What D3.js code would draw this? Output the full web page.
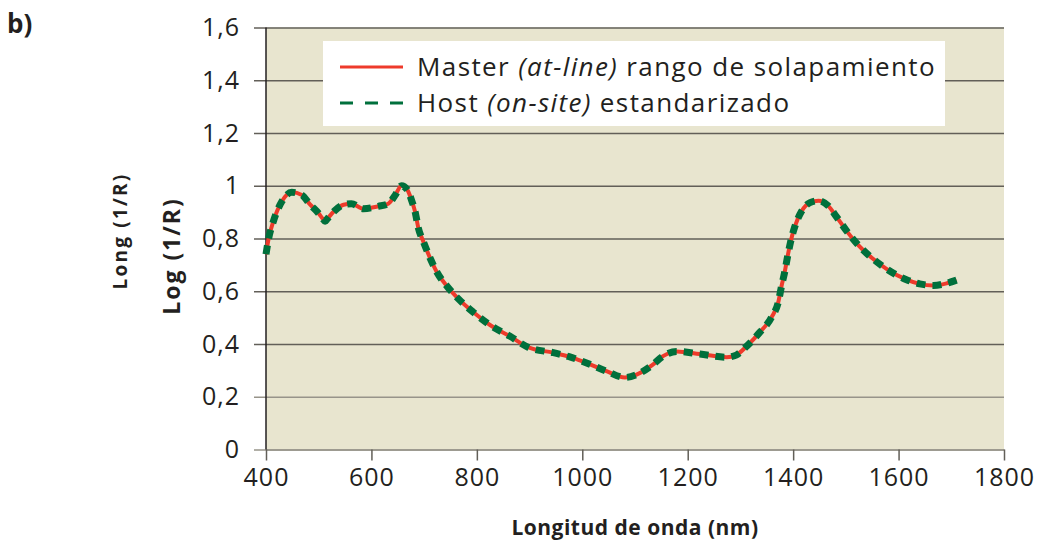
<!DOCTYPE html>
<html>
<head>
<meta charset="utf-8">
<script src="https://cdn.jsdelivr.net/npm/d3@7"></script>
<style>
  body { margin: 0; background: #fff; }
  svg text { font-family: "Open Sans", sans-serif; fill: #231f20; }
</style>
</head>
<body>
<div id="chart"></div>
<script>
// wavelength (nm) and log(1/R)
var wavelengths = [400, 405, 414, 430, 449, 468, 483, 500, 508, 512, 516, 530, 547, 562, 585, 613, 632, 645, 657, 668, 677, 683, 689, 699, 711, 724, 743, 765, 793, 825, 863, 898, 945, 975, 1002, 1046, 1081, 1103, 1132, 1154, 1179, 1223, 1274, 1292, 1312, 1337, 1359, 1372, 1378, 1384, 1389, 1395, 1403, 1416, 1432, 1448, 1467, 1482, 1501, 1524, 1549, 1577, 1615, 1640, 1666, 1691, 1710];
var masterValues = [0.74, 0.80, 0.865, 0.94, 0.975, 0.965, 0.93, 0.895, 0.874, 0.865, 0.874, 0.905, 0.928, 0.932, 0.913, 0.922, 0.932, 0.964, 1.0, 0.985, 0.94, 0.90, 0.84, 0.786, 0.727, 0.673, 0.620, 0.571, 0.521, 0.472, 0.429, 0.387, 0.367, 0.352, 0.333, 0.297, 0.273, 0.284, 0.319, 0.355, 0.372, 0.362, 0.350, 0.358, 0.392, 0.445, 0.501, 0.56, 0.62, 0.673, 0.727, 0.786, 0.844, 0.903, 0.936, 0.943, 0.923, 0.883, 0.83, 0.774, 0.727, 0.685, 0.644, 0.628, 0.622, 0.630, 0.642];
var hostValues = [0.74, 0.80, 0.865, 0.94, 0.975, 0.965, 0.93, 0.895, 0.874, 0.865, 0.874, 0.905, 0.928, 0.932, 0.913, 0.922, 0.932, 0.964, 1.0, 0.985, 0.94, 0.90, 0.84, 0.786, 0.727, 0.673, 0.620, 0.571, 0.521, 0.472, 0.429, 0.387, 0.367, 0.352, 0.333, 0.297, 0.273, 0.284, 0.319, 0.355, 0.372, 0.362, 0.350, 0.358, 0.392, 0.445, 0.501, 0.56, 0.62, 0.673, 0.727, 0.786, 0.844, 0.903, 0.936, 0.943, 0.923, 0.883, 0.83, 0.774, 0.727, 0.685, 0.644, 0.628, 0.622, 0.630, 0.642];
var xTicks = [400, 600, 800, 1000, 1200, 1400, 1600, 1800];
var yTicks = [0, 0.2, 0.4, 0.6, 0.8, 1, 1.2, 1.4, 1.6];

var svgWidth = 1039;
var svgHeight = 546;
var margin = { top: 27.5, right: 35, bottom: 96.5, left: 266 };
var width = svgWidth - margin.left - margin.right;
var height = svgHeight - margin.top - margin.bottom;

var svg = d3.select("#chart")
  .append("svg")
  .attr("width", svgWidth)
  .attr("height", svgHeight);

var chartGroup = svg.append("g")
  .attr("transform", `translate(${margin.left}, ${margin.top})`);

var xScale = d3.scaleLinear().domain([400, 1800]).range([0, width]);
var yScale = d3.scaleLinear().domain([0, 1.6]).range([height, 0]);

// plot background
chartGroup.append("rect")
  .attr("width", width)
  .attr("height", height)
  .attr("fill", "#e8e5cf");

// y grid + outside ticks + labels
var yAxis = d3.axisLeft(yScale)
  .tickValues(yTicks)
  .tickSizeInner(-(width + 12))
  .tickSizeOuter(0)
  .tickPadding(14)
  .tickFormat(d => d3.format("~g")(d).replace(".", ","));

var yAxisG = chartGroup.append("g")
  .attr("transform", "translate(-12, 0)")
  .call(yAxis);
yAxisG.select(".domain").remove();
yAxisG.selectAll(".tick line")
  .attr("stroke", d => d <= 0.2 ? "#97948a" : "#625f58")
  .attr("stroke-width", 1.5);
yAxisG.selectAll(".tick text")
  .attr("font-size", "25px")
  .attr("font-family", "Open Sans, sans-serif")
  .attr("letter-spacing", "1px")
  .attr("fill", "#231f20");

// x axis
var xAxis = d3.axisBottom(xScale)
  .tickValues(xTicks)
  .tickSizeInner(11)
  .tickSizeOuter(0)
  .tickPadding(8)
  .tickFormat(d3.format("d"));

var xAxisG = chartGroup.append("g")
  .attr("transform", `translate(0, ${height})`)
  .call(xAxis);
xAxisG.select(".domain").attr("stroke", "#97948a").attr("stroke-width", 1.5);
xAxisG.selectAll(".tick line").attr("stroke", "#625f58").attr("stroke-width", 1.5);
xAxisG.selectAll(".tick text")
  .attr("font-size", "25px")
  .attr("font-family", "Open Sans, sans-serif")
  .attr("letter-spacing", "1px")
  .attr("fill", "#231f20");

// left axis line
chartGroup.append("line")
  .attr("x1", 0).attr("x2", 0)
  .attr("y1", 0).attr("y2", height)
  .attr("stroke", "#231f20")
  .attr("stroke-width", 1.5);

// curves
var line = d3.line()
  .x(d => xScale(d[0]))
  .y(d => yScale(d[1]))
  .curve(d3.curveMonotoneX);

var masterData = wavelengths.map((w, i) => [w, masterValues[i]]);
var hostData = wavelengths.map((w, i) => [w, hostValues[i]]);

chartGroup.append("path")
  .datum(masterData)
  .attr("d", line)
  .attr("fill", "none")
  .attr("stroke", "#ee3a2b")
  .attr("stroke-width", 4);

chartGroup.append("path")
  .datum(hostData)
  .attr("d", line)
  .attr("fill", "none")
  .attr("stroke", "#00703c")
  .attr("stroke-width", 7)
  .attr("stroke-dasharray", "9,7");

// legend
var legend = svg.append("g").attr("transform", "translate(323, 41)");
legend.append("rect")
  .attr("width", 622)
  .attr("height", 85)
  .attr("fill", "#fff");

legend.append("line")
  .attr("x1", 17).attr("x2", 80)
  .attr("y1", 26).attr("y2", 26)
  .attr("stroke", "#ee3a2b")
  .attr("stroke-width", 3);
legend.append("line")
  .attr("x1", 17).attr("x2", 84)
  .attr("y1", 62).attr("y2", 62)
  .attr("stroke", "#00703c")
  .attr("stroke-width", 3)
  .attr("stroke-dasharray", "13,12");

var t1 = legend.append("text").attr("x", 94).attr("y", 35)
  .attr("font-size", "26px").attr("letter-spacing", "1.4px");
t1.append("tspan").text("Master ");
t1.append("tspan").attr("font-style", "italic").text("(at-line)");
t1.append("tspan").text(" rango de solapamiento");

var t2 = legend.append("text").attr("x", 94).attr("y", 71)
  .attr("font-size", "26px").attr("letter-spacing", "1.4px");
t2.append("tspan").text("Host ");
t2.append("tspan").attr("font-style", "italic").text("(on-site)");
t2.append("tspan").text(" estandarizado");

// axis labels
svg.append("text")
  .attr("x", margin.left + width / 2)
  .attr("y", 535)
  .attr("text-anchor", "middle")
  .attr("font-size", "21px")
  .attr("font-weight", "bold")
  .attr("letter-spacing", "0.5px")
  .text("Longitud de onda (nm)");

svg.append("text")
  .attr("transform", "translate(180, 256) rotate(-90)")
  .attr("text-anchor", "middle")
  .attr("font-size", "23px")
  .attr("font-weight", "bold")
  .attr("letter-spacing", "2px")
  .text("Log (1/R)");

svg.append("text")
  .attr("transform", "translate(127, 231) rotate(-90)")
  .attr("text-anchor", "middle")
  .attr("font-size", "19px")
  .attr("font-weight", "bold")
  .attr("letter-spacing", "2.2px")
  .text("Long (1/R)");

svg.append("text")
  .attr("x", 7)
  .attr("y", 33)
  .attr("font-size", "26px")
  .attr("font-weight", "bold")
  .text("b)");
</script>
</body>
</html>
